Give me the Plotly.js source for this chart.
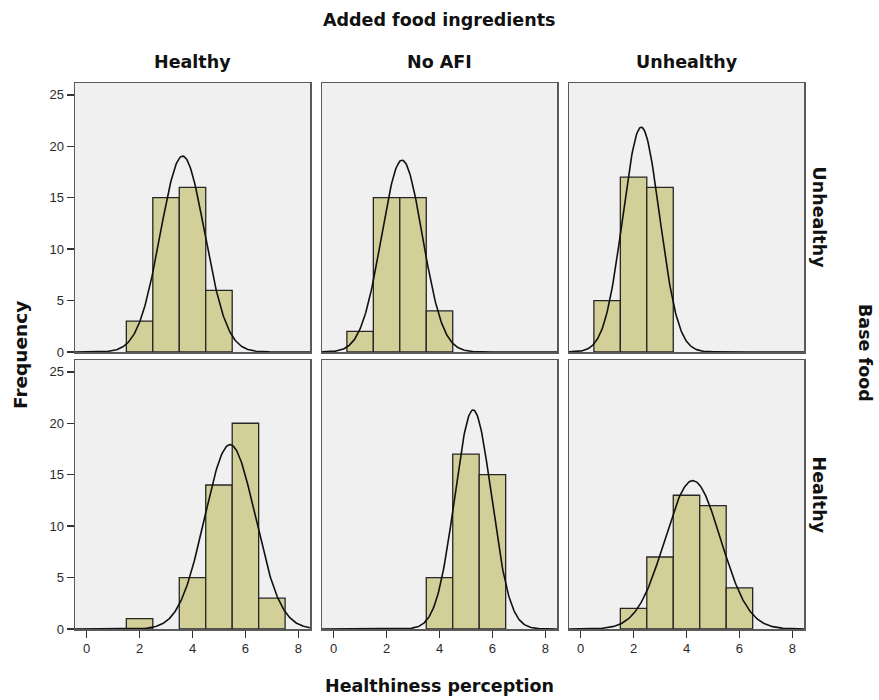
<!DOCTYPE html>
<html>
<head>
<meta charset="utf-8">
<script src="https://cdn.plot.ly/plotly-3.0.1.min.js"></script>
<style>
  html, body { margin: 0; padding: 0; background: #ffffff; }
  #chart { width: 879px; height: 700px; }
</style>
</head>
<body>
<div id="chart"></div>
<script>
// Healthiness perception scores (histogram bins centred on whole scores)
const scores = [1, 2, 3, 4, 5, 6, 7];

// Column facet: added food ingredients; row facet: base food
const afiGroups = ["Healthy", "No AFI", "Unhealthy"];
const baseGroups = ["Unhealthy", "Healthy"];

// Frequencies per score, base food = Unhealthy
const unhealthyBase_healthyAFI   = [0, 3, 15, 16, 6, 0, 0];
const unhealthyBase_noAFI        = [2, 15, 15, 4, 0, 0, 0];
const unhealthyBase_unhealthyAFI = [5, 17, 16, 0, 0, 0, 0];

// Frequencies per score, base food = Healthy
const healthyBase_healthyAFI   = [0, 1, 0, 5, 14, 20, 3];
const healthyBase_noAFI        = [0, 0, 0, 5, 17, 15, 0];
const healthyBase_unhealthyAFI = [0, 2, 7, 13, 12, 4, 0];

const xTicks = [0, 2, 4, 6, 8];
const yTicks = [0, 5, 10, 15, 20, 25];

const counts = [
  [unhealthyBase_healthyAFI, unhealthyBase_noAFI, unhealthyBase_unhealthyAFI],
  [healthyBase_healthyAFI, healthyBase_noAFI, healthyBase_unhealthyAFI]
];

const W = 879, H = 700;
const colPx = [[75, 310], [322, 557], [569, 804]];
const rowPx = [[83, 352], [360, 629]];
const xRange = [-0.44, 8.44];
const yRange = [0, 26.15];

const barFill = "#d3cf98";
const barLine = "#262626";
const frameColor = "#5a5a5a";
const tickFont = { family: "Liberation Sans, Arial, sans-serif", size: 13, color: "#2a2a2a" };
const labelFamily = "DejaVu Sans, Verdana, sans-serif";

// Normal curve fitted to the binned data (mean and sample SD), scaled to counts
function normalFit(freq) {
  let n = 0, s = 0, s2 = 0;
  freq.forEach((f, i) => { n += f; s += f * scores[i]; s2 += f * scores[i] * scores[i]; });
  const mean = s / n;
  const sd = Math.sqrt((s2 - n * mean * mean) / (n - 1));
  const xs = [], ys = [];
  const steps = 300;
  for (let k = 0; k <= steps; k++) {
    const x = xRange[0] + (xRange[1] - xRange[0]) * k / steps;
    xs.push(x);
    ys.push(n / (sd * Math.sqrt(2 * Math.PI)) * Math.exp(-0.5 * Math.pow((x - mean) / sd, 2)));
  }
  return { xs, ys };
}

const traces = [];
const layout = {
  width: W, height: H,
  margin: { l: 0, r: 0, t: 0, b: 0 },
  paper_bgcolor: "#ffffff",
  plot_bgcolor: "#f0f0f0",
  showlegend: false,
  bargap: 0,
  annotations: []
};

for (let r = 0; r < 2; r++) {
  for (let c = 0; c < 3; c++) {
    const idx = r * 3 + c + 1;
    const xa = idx === 1 ? "x" : "x" + idx;
    const ya = idx === 1 ? "y" : "y" + idx;
    const xKey = idx === 1 ? "xaxis" : "xaxis" + idx;
    const yKey = idx === 1 ? "yaxis" : "yaxis" + idx;

    const freq = counts[r][c];
    const xs = [], ys = [];
    freq.forEach((f, i) => { if (f > 0) { xs.push(scores[i]); ys.push(f); } });

    traces.push({
      type: "bar", x: xs, y: ys, width: 1,
      xaxis: xa, yaxis: ya,
      marker: { color: barFill, line: { color: barLine, width: 1.3 } },
      hoverinfo: "x+y"
    });

    const fit = normalFit(freq);
    traces.push({
      type: "scatter", mode: "lines", x: fit.xs, y: fit.ys,
      xaxis: xa, yaxis: ya,
      line: { color: "#111111", width: 1.6 },
      hoverinfo: "skip"
    });

    const bottomRow = r === 1;
    const firstCol = c === 0;
    layout[xKey] = {
      domain: [colPx[c][0] / W, colPx[c][1] / W],
      anchor: ya,
      range: xRange,
      tickvals: xTicks,
      ticktext: xTicks.map(String),
      ticks: bottomRow ? "outside" : "",
      ticklen: 7, tickwidth: 1.5, tickcolor: "#333333",
      showticklabels: bottomRow,
      tickfont: tickFont,
      showgrid: false, zeroline: false,
      showline: true, mirror: true, linecolor: frameColor, linewidth: 1.5,
      fixedrange: true
    };
    layout[yKey] = {
      domain: [1 - rowPx[r][1] / H, 1 - rowPx[r][0] / H],
      anchor: xa,
      range: yRange,
      tickvals: yTicks,
      ticktext: yTicks.map(String),
      ticks: firstCol ? "outside" : "",
      ticklen: 7, tickwidth: 1.5, tickcolor: "#333333",
      showticklabels: firstCol,
      tickfont: tickFont,
      showgrid: false, zeroline: false,
      showline: true, mirror: true, linecolor: frameColor, linewidth: 1.5,
      fixedrange: true
    };
  }
}

function ann(text, xPx, yPx, angle, size) {
  layout.annotations.push({
    text: text, xref: "paper", yref: "paper",
    x: xPx / W, y: 1 - yPx / H,
    xanchor: "center", yanchor: "middle",
    showarrow: false, textangle: angle || 0,
    font: { family: labelFamily, size: size || 17.5, color: "#111111", weight: "bold" }
  });
}

ann("Added food ingredients", 439, 20);
afiGroups.forEach((g, c) => ann(g, (colPx[c][0] + colPx[c][1]) / 2, 62));
baseGroups.forEach((g, r) => ann(g, 819, (rowPx[r][0] + rowPx[r][1]) / 2, 90));
ann("Base food", 865, 353, 90);
ann("Frequency", 20, 355, -90, 18.5);
ann("Healthiness perception", 439, 686);

Plotly.newPlot("chart", traces, layout, { displayModeBar: false, staticPlot: true });
</script>
</body>
</html>
